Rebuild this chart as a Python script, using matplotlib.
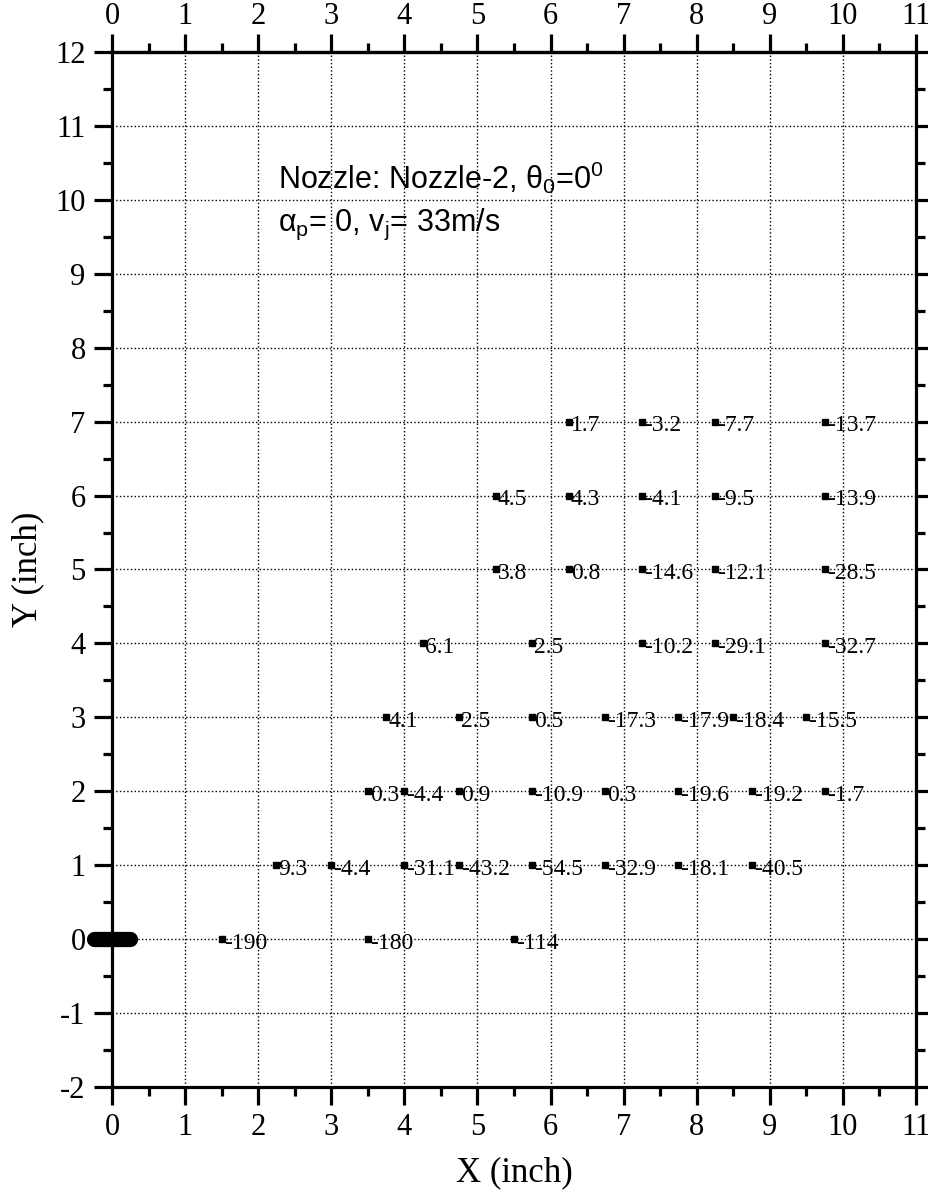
import matplotlib
matplotlib.use('Agg')
import matplotlib.pyplot as plt
from matplotlib.ticker import MultipleLocator

plt.rcParams['font.family'] = ['Liberation Serif', 'DejaVu Serif']
plt.rcParams['axes.unicode_minus'] = False
plt.rcParams['mathtext.default'] = 'regular'

# measuring points (inch) and the value measured at each
pt_x = [6.25, 7.25, 8.25, 9.75,
        5.25, 6.25, 7.25, 8.25, 9.75,
        5.25, 6.25, 7.25, 8.25, 9.75,
        4.25, 5.75, 7.25, 8.25, 9.75,
        3.75, 4.75, 5.75, 6.75, 7.75, 8.5, 9.5,
        3.5, 4.0, 4.75, 5.75, 6.75, 7.75, 8.75, 9.75,
        2.25, 3.0, 4.0, 4.75, 5.75, 6.75, 7.75, 8.75,
        1.5, 3.5, 5.5]
pt_y = [7, 7, 7, 7,
        6, 6, 6, 6, 6,
        5, 5, 5, 5, 5,
        4, 4, 4, 4, 4,
        3, 3, 3, 3, 3, 3, 3,
        2, 2, 2, 2, 2, 2, 2, 2,
        1, 1, 1, 1, 1, 1, 1, 1,
        0, 0, 0]
pt_val = [1.7, -3.2, -7.7, -13.7,
          4.5, 4.3, -4.1, -9.5, -13.9,
          3.8, 0.8, -14.6, -12.1, -28.5,
          6.1, 2.5, -10.2, -29.1, -32.7,
          4.1, 2.5, 0.5, -17.3, -17.9, -18.4, -15.5,
          0.3, -4.4, 0.9, -10.9, 0.3, -19.6, -19.2, -1.7,
          9.3, -4.4, -31.1, -43.2, -54.5, -32.9, -18.1, -40.5,
          -190, -180, -114]

# nozzle exit drawn as a thick bar at the origin
nozzle_x = [-0.25, 0.25]
nozzle_y = [0, 0]

fig = plt.figure(figsize=(9.29, 11.95), dpi=100)
ax = fig.add_axes([0.1206, 0.0904, 0.8654, 0.8661])

ax.plot(pt_x, pt_y, 's', color='black', ms=4, zorder=3)
for x, y, v in zip(pt_x, pt_y, pt_val):
    ax.annotate(f'{v:g}', (x, y), xytext=(1.5, -3), textcoords='offset points',
                ha='left', va='center', fontsize=17, zorder=4)

ax.plot(nozzle_x, nozzle_y, color='black', lw=11, solid_capstyle='round',
        clip_on=False, zorder=5)

ax.text(2.27, 10.15, r'Nozzle: Nozzle-2, $\theta_0$=0$^0$',
        family=['Liberation Sans', 'DejaVu Sans'], fontsize=22)
ax.text(2.27, 9.58, r'$\alpha_p$= 0, v$_j$= 33m/s',
        family=['Liberation Sans', 'DejaVu Sans'], fontsize=22)

ax.set_xlim(0, 11)
ax.set_ylim(-2, 12)
ax.xaxis.set_major_locator(MultipleLocator(1))
ax.xaxis.set_minor_locator(MultipleLocator(0.5))
ax.yaxis.set_major_locator(MultipleLocator(1))
ax.yaxis.set_minor_locator(MultipleLocator(0.5))

ax.grid(True, which='major', color='black', linestyle=':', linewidth=1.0)
ax.set_axisbelow(True)

for s in ax.spines.values():
    s.set_linewidth(2.3)

ax.tick_params(which='both', direction='out', top=False, right=True,
               labeltop=False, labelbottom=True, labelleft=True, labelright=False,
               width=2.3)
ax.tick_params(which='major', length=13, labelsize=22, pad=6)
ax.tick_params(which='minor', length=6.5)

# top scale repeats x with a tighter label gap
top = ax.secondary_xaxis('top')
top.xaxis.set_major_locator(MultipleLocator(1))
top.xaxis.set_minor_locator(MultipleLocator(0.5))
top.spines['top'].set_linewidth(2.3)
top.tick_params(which='both', direction='out', width=2.3)
top.tick_params(which='major', length=13, labelsize=22, pad=2)
top.tick_params(which='minor', length=6.5)

ax.set_xlabel('X (inch)', fontsize=25, labelpad=10)
ax.set_ylabel('Y (inch)', fontsize=25, labelpad=8)

fig.savefig('out.png', dpi=100)
